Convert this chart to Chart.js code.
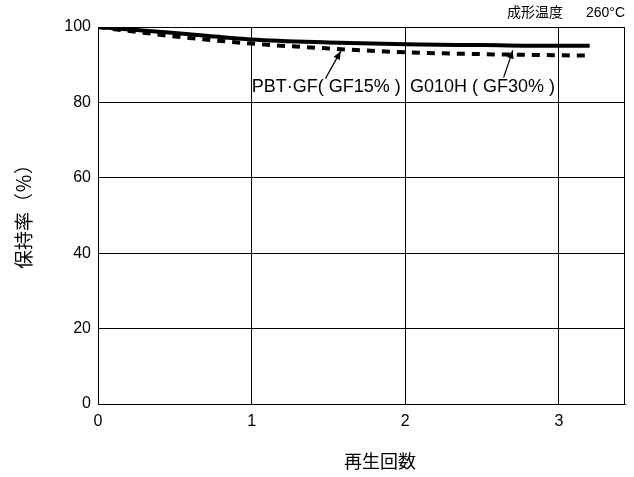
<!DOCTYPE html>
<html>
<head>
<meta charset="utf-8">
<script src="https://cdn.jsdelivr.net/npm/chart.js@4.4.0/dist/chart.umd.min.js"></script>
<style>
  html, body { margin: 0; padding: 0; background: #fff; }
  #wrap { width: 634px; height: 477px; }
</style>
</head>
<body>
<div id="wrap"><canvas id="chart" width="634" height="477"></canvas></div>
<script>
// recycle count vs retention (%)
const cycles = [0, 0.25, 0.5, 1, 1.5, 2, 2.5, 3, 3.2];
const g010h = [100, 99.2, 98.4, 96.7, 95.9, 95.4, 95.2, 95.0, 95.0];
const pbtGf = [100, 98.7, 97.5, 95.6, 94.3, 93.3, 92.8, 92.5, 92.4];
const yTicks = [0, 20, 40, 60, 80, 100];
const xTicks = [0, 1, 2, 3];

const FONT = "'Liberation Sans', Arial, 'Noto Sans CJK JP', sans-serif";
const JP = "'Liberation Sans', 'Noto Sans CJK JP', sans-serif";

// labels with arrows, positioned in data units
const notes = [
  { text: "PBT·GF( GF15% )", x: 1.0, y: 84.2, from: [1.48, 86.3], to: [1.58, 93.6] },
  { text: "G010H ( GF30% )", x: 2.03, y: 84.2, from: [2.64, 86.6], to: [2.7, 93.8] },
];

const toPts = (ys) => cycles.map((x, i) => ({ x: x, y: ys[i] }));

const extras = {
  id: "extras",
  afterDraw(chart) {
    const { ctx, chartArea: a, scales } = chart;
    const xs = scales.x, ys = scales.y;
    ctx.save();
    // frame
    ctx.strokeStyle = "#000";
    ctx.lineWidth = 1;
    ctx.strokeRect(a.left + 0.5, a.top + 0.5, a.right - a.left - 1, a.bottom - a.top);

    // annotations
    ctx.fillStyle = "#000";
    ctx.font = "18px " + JP;
    ctx.textBaseline = "middle";
    ctx.textAlign = "left";
    notes.forEach((n) => {
      ctx.fillText(n.text, xs.getPixelForValue(n.x), ys.getPixelForValue(n.y));
      const x1 = xs.getPixelForValue(n.from[0]), y1 = ys.getPixelForValue(n.from[1]);
      const x2 = xs.getPixelForValue(n.to[0]), y2 = ys.getPixelForValue(n.to[1]);
      ctx.beginPath();
      ctx.moveTo(x1, y1);
      ctx.lineTo(x2, y2);
      ctx.lineWidth = 1.2;
      ctx.stroke();
      const ang = Math.atan2(y2 - y1, x2 - x1);
      ctx.beginPath();
      ctx.moveTo(x2, y2);
      ctx.lineTo(x2 - 9 * Math.cos(ang - 0.4), y2 - 9 * Math.sin(ang - 0.4));
      ctx.lineTo(x2 - 9 * Math.cos(ang + 0.4), y2 - 9 * Math.sin(ang + 0.4));
      ctx.closePath();
      ctx.fill();
    });

    // titles
    ctx.textAlign = "center";
    ctx.font = "18px " + JP;
    ctx.fillText("再生回数", 380, 463);
    ctx.save();
    ctx.translate(26, 212);
    ctx.rotate(-Math.PI / 2);
    ctx.font = "19px " + JP;
    ctx.fillText("保持率（％）", 0, 0);
    ctx.restore();

    ctx.font = "14px " + JP;
    ctx.textAlign = "right";
    ctx.fillText("成形温度", 563, 13);
    ctx.fillText("260°C", 625, 13);
    ctx.restore();
  },
};

const ctx = document.getElementById("chart").getContext("2d");
const chart = new Chart(ctx, {
  type: "line",
  data: {
    datasets: [
      {
        label: "G010H ( GF30% )",
        data: toPts(g010h),
        borderColor: "#000",
        borderWidth: 4,
        pointRadius: 0,
        cubicInterpolationMode: "monotone",
        fill: false,
      },
      {
        label: "PBT·GF( GF15% )",
        data: toPts(pbtGf),
        borderColor: "#000",
        borderWidth: 4,
        borderDash: [8, 7],
        borderCapStyle: "butt",
        pointRadius: 0,
        cubicInterpolationMode: "monotone",
        fill: false,
      },
    ],
  },
  options: {
    responsive: false,
    animation: false,
    devicePixelRatio: 1,
    layout: { padding: { top: 27, right: 9, left: 0, bottom: 0 } },
    plugins: { legend: { display: false }, tooltip: { enabled: false } },
    scales: {
      x: {
        type: "linear",
        min: 0,
        max: 3.43,
        afterBuildTicks: (s) => { s.ticks = xTicks.map((v) => ({ value: v })); },
        afterFit: (s) => { s.height = 73; },
        grid: { color: "#000", lineWidth: 1, drawTicks: false },
        border: { color: "#000", width: 1 },
        ticks: { color: "#000", font: { family: FONT, size: 16 }, padding: 8, maxRotation: 0 },
      },
      y: {
        type: "linear",
        min: 0,
        max: 100,
        afterBuildTicks: (s) => { s.ticks = yTicks.map((v) => ({ value: v })); },
        afterFit: (s) => { s.width = 98; },
        grid: { color: "#000", lineWidth: 1, drawTicks: false },
        border: { color: "#000", width: 1 },
        ticks: { color: "#000", font: { family: FONT, size: 16 }, padding: 7 },
      },
    },
  },
  plugins: [extras],
});
</script>
</body>
</html>
